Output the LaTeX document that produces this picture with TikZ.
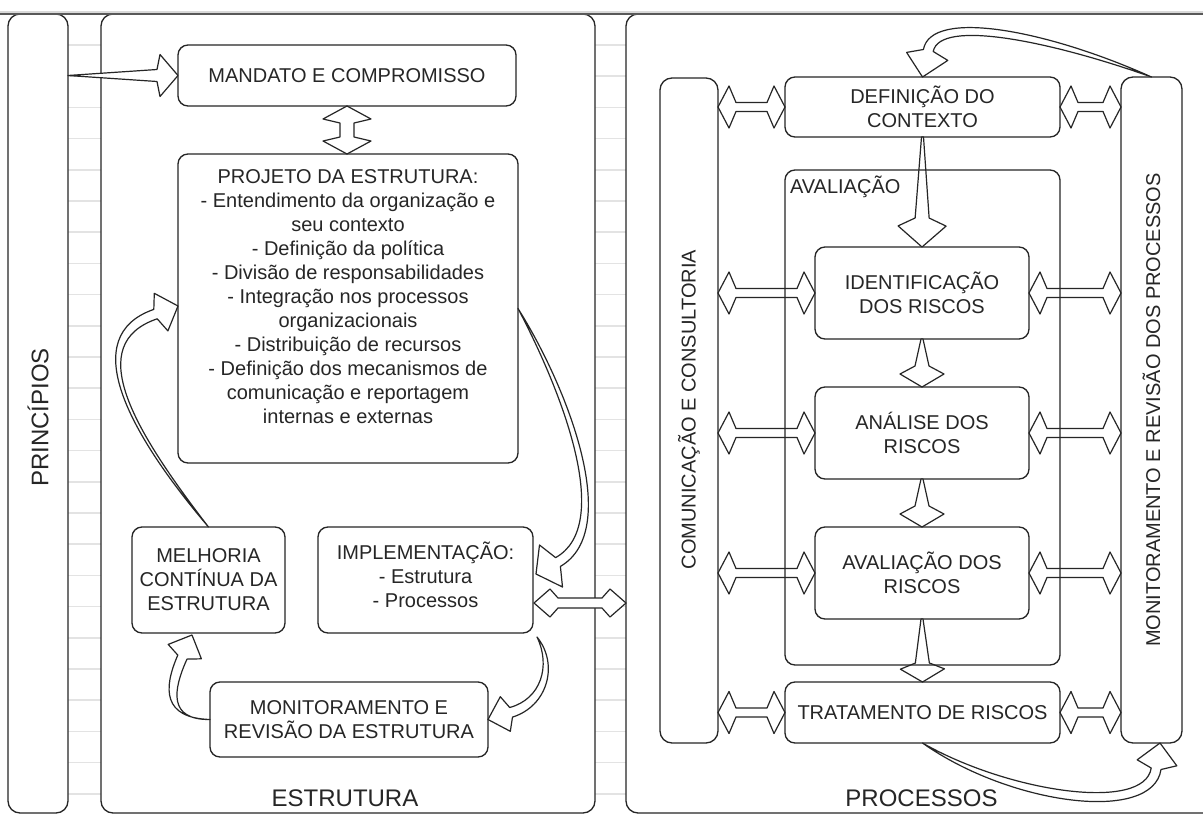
\documentclass[tikz,border=0pt]{standalone}
\usepackage{fontspec}
\setmainfont{Liberation Sans}
\usetikzlibrary{calc}

% straight flex arrow: #1 from, #2 to, #3 head length, #4 wing half-width, #5 back offset, #6 shaft half-width at head, #7 shaft half-width at start
\newcommand\flexone[7]{%
  \path (#1) coordinate (fa) (#2) coordinate (fb);%
  \pgfpointdiff{\pgfpointanchor{fa}{center}}{\pgfpointanchor{fb}{center}}%
  \pgfgetlastxy{\fdx}{\fdy}%
  \pgfmathsetmacro\flen{veclen(\fdx,\fdy)/0.75}%
  \pgfmathsetmacro\fang{atan2(\fdy,\fdx)}%
  \draw[flexst, shift={(fa)}, rotate=\fang, x=0.75pt, y=0.75pt]
    (0,#7) -- ({\flen-#3-#5},#6) -- ({\flen-#3},#4) -- (\flen,0) -- ({\flen-#3},-#4)
    -- ({\flen-#3-#5},-#6) -- (0,-#7) -- cycle;%
}
% double flex arrow
\newcommand\flexdbl[6]{%
  \path (#1) coordinate (fa) (#2) coordinate (fb);%
  \pgfpointdiff{\pgfpointanchor{fa}{center}}{\pgfpointanchor{fb}{center}}%
  \pgfgetlastxy{\fdx}{\fdy}%
  \pgfmathsetmacro\flen{veclen(\fdx,\fdy)/0.75}%
  \pgfmathsetmacro\fang{atan2(\fdy,\fdx)}%
  \draw[flexst, shift={(fa)}, rotate=\fang, x=0.75pt, y=0.75pt]
    (0,0) -- (#3,#4) -- ({#3+#5},#6) -- ({\flen-#3-#5},#6) -- ({\flen-#3},#4) -- (\flen,0)
    -- ({\flen-#3},-#4) -- ({\flen-#3-#5},-#6) -- ({#3+#5},-#6) -- (#3,-#4) -- cycle;%
}

\begin{document}
\begin{tikzpicture}[x=0.75pt,y=-0.75pt,
  every node/.style={font=\fontsize{15pt}{18pt}\selectfont, inner sep=0pt, outer sep=0pt, text=black!85},
  box/.style={draw=black!85, line width=1pt, fill=white, rounded corners=7.5pt, align=center},
  bar/.style={draw=black!85, line width=1pt, fill=white, rounded corners=9pt},
  flexst/.style={draw=black!85, line width=0.9pt, fill=white, line join=round},
  biglbl/.style={font=\fontsize{18pt}{21.6pt}\selectfont},
  gridln/.style={draw=gray!22, line width=1.2pt}]
\useasboundingbox (0,0) rectangle (1203,814);
\fill[white] (0,0) rectangle (1203,814);

% background grid lines in the gaps
\foreach \k in {0,...,24} {
  \draw[gridln] (68,{45+31.2*\k}) -- (101,{45+31.2*\k});
  \draw[gridln] (595,{45+31.2*\k}) -- (626,{45+31.2*\k});
}

% containers
\node[bar, minimum width=45pt, minimum height=599.25pt] (prin) at (38,413.5) {};
\node[bar, minimum width=370.5pt, minimum height=599.25pt] (estr) at (348,413.5) {};
\node[bar, minimum width=460.5pt, minimum height=599.25pt] (proc) at (933,413.5) {};

% top border line
\fill[gray!30] (0,10.5) rectangle (1203,13);
\draw[black!65, line width=1.6pt] (0,14) -- (1203,14);

% ESTRUTURA boxes
\node[box, minimum width=253.5pt, minimum height=45.75pt] (mand) at (347,75.5) {MANDATO E COMPROMISSO};
\node[box, minimum width=255pt, minimum height=231.75pt] (proj) at (348,308.5)
  {PROJETO DA ESTRUTURA:\\- Entendimento da organização e\\seu contexto\\- Definição da política\\- Divisão de responsabilidades\\- Integração nos processos\\organizacionais\\- Distribuição de recursos\\- Definição dos mecanismos de\\comunicação e reportagem\\internas e externas\\\mbox{}};
\node[box, minimum width=114.75pt, minimum height=79.5pt] (melh) at (208.5,580) {MELHORIA\\CONTÍNUA DA\\ESTRUTURA};
\node[box, minimum width=161.25pt, minimum height=79.5pt] (impl) at (425.5,580) {IMPLEMENTAÇÃO:\\- Estrutura\\- Processos\\[-10.5pt]\mbox{}};
\node[box, minimum width=208.5pt, minimum height=56.25pt] (mon) at (349,719.5) {MONITORAMENTO E\\REVISÃO DA ESTRUTURA};

% PROCESSOS boxes
\node[bar, minimum width=43.5pt, minimum height=498.75pt] (comm) at (689,410.5) {};
\node[bar, minimum width=45.75pt, minimum height=499.5pt] (rbar) at (1151.5,410) {};
\node[box, draw=none, minimum width=206.25pt, minimum height=371.25pt] (aval) at (922.5,417.5) {};
\node[box, minimum width=206.25pt, minimum height=45pt] (def) at (922.5,107) {DEFINIÇÃO DO\\CONTEXTO};
\node[box, minimum width=160.5pt, minimum height=69pt] (ident) at (922,293) {IDENTIFICAÇÃO\\DOS RISCOS};
\node[box, minimum width=160.5pt, minimum height=69pt] (anal) at (922,433) {ANÁLISE DOS\\RISCOS};
\node[box, minimum width=160.5pt, minimum height=69pt] (avalr) at (922,573) {AVALIAÇÃO DOS\\RISCOS};
\node[box, minimum width=206.25pt, minimum height=45.75pt] (trat) at (922.5,712.5) {TRATAMENTO DE RISCOS};

% ---- arrows, ESTRUTURA side
\flexone{prin.east |- mand.west}{mand.west}{18}{21}{3}{6}{0}
\flexdbl{mand.south}{mand.south |- proj.north}{13}{24}{4}{7}
\coordinate (ipA) at ($(impl.east)+(1,23)$);
\flexdbl{ipA}{ipA -| proc.west}{16}{14}{8}{5}

% projeto -> implementacao
\draw[flexst] (proj.east) .. controls (568,388) and (623,530) .. (560.4,566.4) -- (562.5,587)
  -- ($(impl.east)+(3,-6)$) -- (539.5,545) -- (555.6,557.6) .. controls (614,525) and (562,392) .. (proj.east) -- cycle;
% melhoria -> projeto
\draw[flexst] (melh.north) .. controls (127,431) and (77,336) .. (153.8,309.4) -- (154.3,293.3)
  -- ($(proj.west)+(0,-2.5)$) -- (167.9,330.9) -- (157.2,318.8) .. controls (83,344) and (133,429) .. (melh.north) -- cycle;
% implementacao -> monitoramento
\coordinate (imS) at ($(impl.south east)+(4,4)$);
\draw[flexst] (imS) .. controls (559,664) and (548,706) .. (512.5,717.1) -- (510.3,731.3)
  -- (mon.east) -- (500.3,696.7) -- (509.7,707.5) .. controls (541,699) and (551,666) .. (imS) -- cycle;
% monitoramento -> melhoria
\draw[flexst] (mon.west) .. controls (163,718) and (163,689) .. (177.8,655.1) -- (168.2,644.4)
  -- ($(melh.south)+(-16.5,2)$) -- (201.4,658.8) -- (187,659.1) .. controls (173,690) and (168,720) .. (mon.west) -- cycle;

% ---- arrows, PROCESSOS side
\flexdbl{comm.east |- def.west}{def.west}{11}{21}{7}{4.5}
\flexdbl{def.east}{rbar.west |- def.east}{11}{21}{7}{4.5}
\flexdbl{comm.east |- ident.west}{ident.west}{11}{21}{7}{4.5}
\flexdbl{ident.east}{rbar.west |- ident.east}{11}{21}{7}{4.5}
\flexdbl{comm.east |- anal.west}{anal.west}{11}{21}{7}{4.5}
\flexdbl{anal.east}{rbar.west |- anal.east}{11}{21}{7}{4.5}
\flexdbl{comm.east |- avalr.west}{avalr.west}{11}{21}{7}{4.5}
\flexdbl{avalr.east}{rbar.west |- avalr.east}{11}{21}{7}{4.5}
\flexdbl{comm.east |- trat.west}{trat.west}{11}{21}{7}{4.5}
\flexdbl{trat.east}{rbar.west |- trat.east}{11}{21}{7}{4.5}

\flexone{def.south}{ident.north}{21}{24}{8}{7}{1}
\flexone{ident.south}{anal.north}{13}{22}{8}{7}{1}
\flexone{anal.south}{avalr.north}{13}{22}{8}{7}{1}
\flexone{avalr.south}{trat.north}{13}{22}{6}{7}{1}

% monitoramento (bar) -> definicao do contexto
\draw[flexst] (rbar.north) .. controls (1047,30) and (931,8) .. (923.4,49.5) -- (906.6,52.4)
  -- (def.north) -- (947.8,60.4) -- (933.2,51.5) .. controls (940,18) and (1053,42) .. (rbar.north) -- cycle;
% tratamento -> monitoramento (bar)
\coordinate (trT) at ($(rbar.south)+(8.5,0)$);
\draw[flexst] (trat.south) .. controls (1010,805) and (1152.8,824) .. (1161,769.5) -- (1176.8,765.8)
  -- (trT) -- (1137.2,759.8) -- (1151.2,768) .. controls (1144.5,812.6) and (1008,792) .. (trat.south) -- cycle;

% avaliacao container border, drawn over the arrows that cross it
\draw[draw=black!85, line width=1pt, rounded corners=7.5pt] (aval.north west) rectangle (aval.south east);

% labels
\node[anchor=base west] (avallbl) at ($(aval.north west)+(5,23)$) {AVALIAÇÃO};
\node[biglbl, rotate=90] (prinlbl) at ($(prin.center)+(0,4)$) {PRINCÍPIOS};
\node[rotate=90] (commlbl) at ($(comm.center)+(0,-1)$) {COMUNICAÇÃO E CONSULTORIA};
\node[rotate=90] (rbarlbl) at (rbar.center) {MONITORAMENTO E REVISÃO DOS PROCESSOS};
\node[biglbl] (estrlbl) at ($(estr.south)+(-3,-15)$) {ESTRUTURA};
\node[biglbl] (proclbl) at ($(def.south |- estr.south)+(-1,-15)$) {PROCESSOS};
\end{tikzpicture}
\end{document}
